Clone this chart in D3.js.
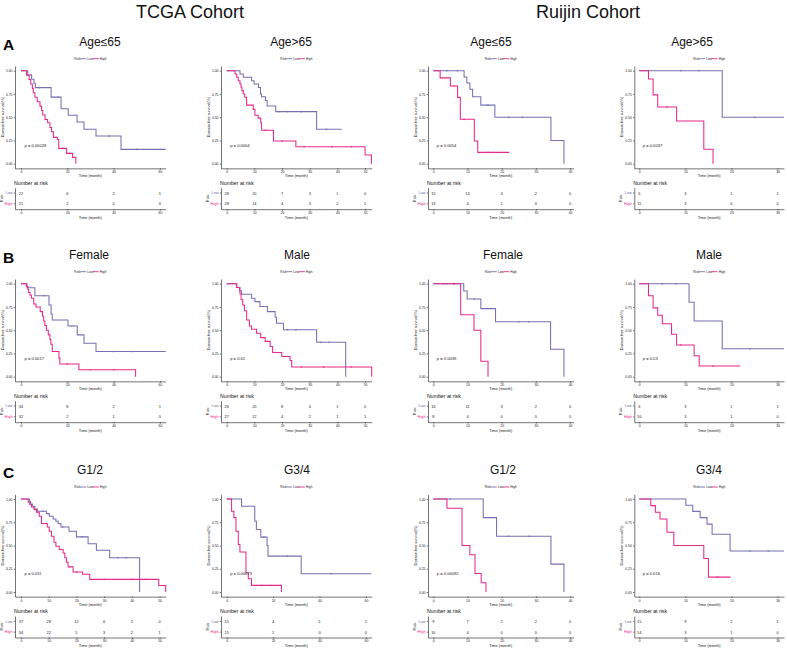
<!DOCTYPE html>
<html><head><meta charset="utf-8">
<script src="https://cdn.jsdelivr.net/npm/d3@7"></script>
<style>body{margin:0;background:#fff}svg{display:block;font-family:"Liberation Sans",Arial,sans-serif}</style>
</head><body><svg id="c" width="787" height="650"></svg>
<script>
// ---------- DATA ----------
const cohorts = ["TCGA Cohort", "Ruijin Cohort"];
const rowLetters = ["A", "B", "C"];
const titlesA = ["Age≤65", "Age>65", "Age≤65", "Age>65"];
const titlesB = ["Female", "Male", "Female", "Male"];
const titlesC = ["G1/2", "G3/4", "G1/2", "G3/4"];
const pvalsA = ["p = 0.00028", "p = 0.0004", "p = 0.0054", "p = 0.0037"];
const pvalsB = ["p = 0.0017", "p = 0.01", "p = 0.0039", "p = 0.03"];
const pvalsC = ["p = 0.011", "p = 0.00073", "p = 0.00092", "p = 0.016"];
const yTicks = [0, 0.25, 0.5, 0.75, 1];
const ticks0to60 = [0, 20, 40, 60];
const ticks0to50 = [0, 10, 20, 30, 40, 50];
const ticks0to40 = [0, 10, 20, 30, 40];
const ticks0to30 = [0, 10, 20, 30];
const groups = ["Low", "High"];

// step curves: [time, survival after drop]
const a1Low = [[2.9,0.955],[4.6,0.909],[5.6,0.864],[6.2,0.818],[13,0.716],[17.3,0.59],[20.4,0.52],[24.2,0.448],[27.2,0.37],[32.4,0.297],[43.2,0.154],[62.5,0.154]];
const a1High = [[2.4,0.952],[3.5,0.905],[4.2,0.857],[4.9,0.81],[5.3,0.762],[6.0,0.714],[7.0,0.667],[8.2,0.619],[8.9,0.571],[9.4,0.524],[10.4,0.476],[11.5,0.44],[12.5,0.39],[13.2,0.344],[14.0,0.283],[15.7,0.26],[16.3,0.165],[19.7,0.111],[22.3,0.068],[23.7,0]];
const a2Low = [[4.8,0.964],[6.0,0.929],[9.0,0.893],[9.9,0.857],[11.5,0.82],[12.2,0.75],[12.6,0.72],[14.0,0.68],[14.6,0.62],[17.7,0.56],[32.5,0.37],[41.6,0.37]];
const a2High = [[3.0,0.964],[3.6,0.929],[4.2,0.893],[4.8,0.857],[5.2,0.821],[5.5,0.786],[6.0,0.75],[6.5,0.714],[7.2,0.63],[9.6,0.584],[10.2,0.52],[11.4,0.49],[12.3,0.44],[12.6,0.36],[16.9,0.245],[25.0,0.183],[50.0,0.093],[52.3,0]];
const a3Low = [[9.0,0.933],[9.8,0.867],[10.7,0.8],[11.5,0.72],[13.9,0.63],[18.0,0.5],[34.4,0.25],[38.2,0]];
const a3High = [[2.0,0.923],[5.0,0.835],[7.1,0.713],[7.9,0.477],[12.0,0.244],[13.0,0.122],[22.2,0.122]];
const a4Low = [[18.0,0.5],[31.4,0.5]];
const a4High = [[2.0,0.91],[3.0,0.74],[4.0,0.61],[8.1,0.46],[14.0,0.155],[16.0,0]];
const b1Low = [[2.6,0.957],[6.0,0.871],[12.1,0.771],[13.0,0.675],[13.5,0.61],[20.3,0.546],[24.3,0.45],[27.2,0.36],[32.4,0.27],[62.5,0.27]];
const b1High = [[2.3,0.969],[3.0,0.938],[3.3,0.906],[3.9,0.875],[4.5,0.844],[5.5,0.781],[6.5,0.75],[8.3,0.7],[9.3,0.65],[9.8,0.6],[10.3,0.55],[11.0,0.5],[11.8,0.45],[12.5,0.4],[12.9,0.35],[13.5,0.27],[16.4,0.2],[16.8,0.136],[25.0,0.075],[49.5,0]];
const b2Low = [[3.6,0.96],[4.6,0.925],[5.4,0.886],[9.0,0.843],[10.2,0.807],[12.0,0.754],[14.7,0.70],[17.5,0.64],[18.0,0.575],[20.5,0.504],[32.5,0.37],[43.0,0]];
const b2High = [[3.6,0.96],[4.8,0.89],[5.2,0.83],[5.8,0.77],[6.4,0.71],[7.2,0.61],[8.2,0.546],[9.0,0.51],[10.8,0.468],[12.3,0.42],[13.9,0.38],[15.7,0.325],[16.6,0.26],[19.9,0.218],[22.9,0.175],[23.5,0.104],[52.4,0]];
const b3Low = [[8.9,0.921],[9.9,0.836],[13.9,0.732],[18.2,0.59],[34.3,0.296],[38.2,0]];
const b3High = [[8.0,0.667],[11.9,0.5],[13.9,0.167],[16.0,0]];
const b4Low = [[10.8,0.8],[11.9,0.6],[18.0,0.3],[31.4,0.3]];
const b4High = [[2.0,0.87],[3.0,0.74],[4.0,0.66],[5.0,0.57],[7.0,0.457],[8.1,0.34],[11.9,0.225],[13.0,0.114],[21.9,0.114]];
const c1Low = [[3.0,0.973],[3.5,0.946],[4.1,0.921],[5.0,0.893],[5.9,0.868],[9.2,0.843],[10.2,0.814],[11.6,0.786],[12.6,0.76],[13.4,0.736],[14.4,0.7],[17.3,0.654],[20.0,0.593],[24.2,0.518],[27.2,0.45],[32.0,0.368],[42.8,0]];
const c1High = [[2.6,0.964],[3.2,0.94],[3.8,0.914],[4.7,0.886],[5.6,0.857],[6.6,0.814],[7.4,0.736],[9.5,0.7],[10.2,0.654],[11.0,0.6],[11.9,0.536],[12.6,0.493],[13.8,0.457],[15.2,0.42],[15.8,0.368],[16.4,0.32],[17.0,0.27],[18.8,0.214],[22.2,0.19],[24.8,0.136],[49.7,0.07],[52.2,0]];
const c2Low = [[6.4,0.921],[12.1,0.76],[12.8,0.671],[14.7,0.59],[17.4,0.5],[17.8,0.386],[32.1,0.196],[62.3,0.196]];
const c2High = [[2.1,0.868],[3.1,0.8],[4.0,0.654],[5.0,0.511],[5.7,0.43],[8.3,0.207],[9.3,0.143],[10.7,0.071],[23.6,0]];
const c3Low = [[14.6,0.8],[18.5,0.6],[34.4,0.3],[38.2,0]];
const c3High = [[4.0,0.9],[8.4,0.5],[10.7,0.4],[12.2,0.2],[14.0,0.1],[15.4,0]];
const c4Low = [[10.1,0.933],[11.6,0.867],[13.2,0.8],[14.7,0.73],[15.8,0.62],[19.7,0.44],[31.4,0.44]];
const c4High = [[2.5,0.929],[3.5,0.857],[4.5,0.786],[6.0,0.643],[7.5,0.5],[14.0,0.36],[15.0,0.16],[19.8,0.16]];

// censoring times
const a1LowC = [8, 16, 38, 50], a1HighC = [18, 21];
const a2LowC = [19, 22, 27, 36], a2HighC = [14, 20, 28, 38, 45];
const a3LowC = [4, 7, 16, 22, 26], a3HighC = [6, 9, 16];
const a4LowC = [9, 13, 25], a4HighC = [6];
const b1LowC = [10, 22, 40, 48], b1HighC = [20, 30, 40];
const b2LowC = [22, 25, 34, 37], b2HighC = [27, 35, 45];
const b3LowC = [4, 6, 12, 25, 28], b3HighC = [3, 6];
const b4LowC = [5, 8, 24], b4HighC = [9, 16];
const c1LowC = [8, 15, 22, 35, 38], c1HighC = [20, 30, 40, 45];
const c2LowC = [16, 26, 45], c2HighC = [15, 19];
const c3LowC = [5, 22, 28], c3HighC = [];
const c4LowC = [24, 28], c4HighC = [17];

// numbers at risk
const a1Risk = [[22, 6, 2, 1], [21, 2, 0, 0]];
const a2Risk = [[28, 20, 7, 3, 1, 0], [28, 14, 4, 3, 2, 1]];
const a3Risk = [[15, 13, 3, 2, 0], [13, 4, 1, 0, 0]];
const a4Risk = [[6, 3, 1, 1], [11, 3, 0, 0]];
const b1Risk = [[34, 8, 2, 1], [32, 2, 1, 0]];
const b2Risk = [[26, 20, 8, 4, 1, 0], [27, 12, 4, 2, 1, 1]];
const b3Risk = [[16, 11, 3, 2, 0], [8, 4, 0, 0, 0]];
const b4Risk = [[6, 3, 1, 1], [16, 3, 1, 0]];
const c1Risk = [[37, 28, 12, 6, 2, 0], [34, 22, 5, 3, 2, 1]];
const c2Risk = [[15, 4, 1, 1], [15, 1, 0, 0]];
const c3Risk = [[9, 7, 2, 2, 0], [10, 4, 0, 0, 0]];
const c4Risk = [[15, 9, 2, 1], [14, 3, 1, 0]];

// ---------- LAYOUT ----------
const colors = {Low: "#7570B3", High: "#E7298A"};
const rowTop = [70.7, 283.7, 499];
const colAxisX = [15, 221, 428, 634.3];
const colAxisEnd = [165.7, 371.7, 573.5, 784];
const titleX = [[100, 291, 491, 692], [89, 297, 503, 709], [90, 297, 503, 709]];
const domA = [[-2.59, 62.5], [-2.06, 52.4], [-1.55, 41.0], [-1.08, 31.4]];
const domC = [[-2.16, 52.2], [-2.46, 62.5], [-1.55, 41.0], [-1.08, 31.4]];

const panels = [
  [0,0,titlesA[0],pvalsA[0],a1Low,a1High,a1LowC,a1HighC,a1Risk,domA[0],ticks0to60],
  [0,1,titlesA[1],pvalsA[1],a2Low,a2High,a2LowC,a2HighC,a2Risk,domA[1],ticks0to50],
  [0,2,titlesA[2],pvalsA[2],a3Low,a3High,a3LowC,a3HighC,a3Risk,domA[2],ticks0to40],
  [0,3,titlesA[3],pvalsA[3],a4Low,a4High,a4LowC,a4HighC,a4Risk,domA[3],ticks0to30],
  [1,0,titlesB[0],pvalsB[0],b1Low,b1High,b1LowC,b1HighC,b1Risk,domA[0],ticks0to60],
  [1,1,titlesB[1],pvalsB[1],b2Low,b2High,b2LowC,b2HighC,b2Risk,domA[1],ticks0to50],
  [1,2,titlesB[2],pvalsB[2],b3Low,b3High,b3LowC,b3HighC,b3Risk,domA[2],ticks0to40],
  [1,3,titlesB[3],pvalsB[3],b4Low,b4High,b4LowC,b4HighC,b4Risk,domA[3],ticks0to30],
  [2,0,titlesC[0],pvalsC[0],c1Low,c1High,c1LowC,c1HighC,c1Risk,domC[0],ticks0to50],
  [2,1,titlesC[1],pvalsC[1],c2Low,c2High,c2LowC,c2HighC,c2Risk,domC[1],ticks0to60],
  [2,2,titlesC[2],pvalsC[2],c3Low,c3High,c3LowC,c3HighC,c3Risk,domC[2],ticks0to40],
  [2,3,titlesC[3],pvalsC[3],c4Low,c4High,c4LowC,c4HighC,c4Risk,domC[3],ticks0to30]
];

const svg = d3.select("#c");
const FONT = "Liberation Sans, Arial, sans-serif";

// headers
svg.append("text").attr("x", 190).attr("y", 18).attr("text-anchor", "middle")
  .attr("font-size", 18).attr("fill", "#111").text(cohorts[0]);
svg.append("text").attr("x", 588).attr("y", 18).attr("text-anchor", "middle")
  .attr("font-size", 18).attr("fill", "#111").text(cohorts[1]);
rowLetters.forEach((L, i) => {
  svg.append("text").attr("x", 3).attr("y", rowTop[i] - 21).attr("font-size", 15.5)
    .attr("font-weight", "bold").attr("fill", "#000").text(L);
});

function styleAxis(g, fs) {
  g.attr("font-size", fs).attr("font-family", FONT);
  g.selectAll("path,line").attr("stroke", "#000").attr("stroke-width", 0.55);
  g.selectAll("text").attr("fill", "#222");
}

function survAt(pts, t) {
  let s = 1;
  pts.forEach(([ti, si]) => { if (ti <= t) s = si; });
  return s;
}

panels.forEach(([r, c, title, pval, low, high, lowC, highC, risk, dom, ticks]) => {
  const T = rowTop[r], ax = colAxisX[c], ae = colAxisEnd[c];
  const cx = (ax + ae) / 2;
  const x = d3.scaleLinear().domain(dom).range([ax, ae]);
  const y = d3.scaleLinear().domain([-0.05, 1.05]).range([T + 97.65, T - 4.65]);
  const g = svg.append("g");

  // title
  g.append("text").attr("x", titleX[r][c]).attr("y", T - 25).attr("text-anchor", "middle")
    .attr("font-size", 12).attr("fill", "#111").text(title);

  // legend
  const ly = T - 12;
  const lg = g.append("g").attr("font-size", 3.2).attr("fill", "#222");
  lg.append("text").attr("x", cx - 16).attr("y", ly).attr("dominant-baseline", "central").text("Risk");
  lg.append("line").attr("x1", cx - 10).attr("x2", cx - 4).attr("y1", ly).attr("y2", ly)
    .attr("stroke", colors.Low).attr("stroke-width", 0.9);
  lg.append("text").attr("x", cx - 3).attr("y", ly).attr("dominant-baseline", "central").text("Low");
  lg.append("line").attr("x1", cx + 2.5).attr("x2", cx + 8.5).attr("y1", ly).attr("y2", ly)
    .attr("stroke", colors.High).attr("stroke-width", 0.9);
  lg.append("text").attr("x", cx + 9.5).attr("y", ly).attr("dominant-baseline", "central").text("High");

  // axes
  const ya = g.append("g").attr("transform", `translate(${ax},0)`)
    .call(d3.axisLeft(y).tickValues(yTicks).tickFormat(d3.format(".2f")).tickSize(1.3).tickSizeOuter(0).tickPadding(1.2));
  styleAxis(ya, 3.4);
  const xa = g.append("g").attr("transform", `translate(0,${T + 97.65})`)
    .call(d3.axisBottom(x).tickValues(ticks).tickFormat(d3.format("d")).tickSize(1.3).tickSizeOuter(0).tickPadding(1.2));
  styleAxis(xa, 3.4);
  g.append("text").attr("transform", `translate(${ax - 11.5},${T + 46.5}) rotate(-90)`)
    .attr("text-anchor", "middle").attr("font-size", 3.7).attr("fill", "#222").text("Disease-free survival(%)");
  g.append("text").attr("x", cx).attr("y", T + 106.5).attr("text-anchor", "middle")
    .attr("font-size", 3.9).attr("fill", "#222").text("Time (month)");

  // curves
  const line = d3.line().x(d => x(d[0])).y(d => y(d[1])).curve(d3.curveStepAfter);
  [["Low", low, lowC], ["High", high, highC]].forEach(([grp, pts, cens]) => {
    g.append("path").datum([[0, 1], ...pts]).attr("d", line).attr("fill", "none")
      .attr("stroke", colors[grp]).attr("stroke-width", 1.05);
    cens.forEach(t => {
      const px = x(t), py = y(survAt(pts, t));
      g.append("path").attr("d", `M${px - 1},${py}H${px + 1}M${px},${py - 1}V${py + 1}`)
        .attr("stroke", colors[grp]).attr("stroke-width", 0.5);
    });
  });

  // p value
  g.append("text").attr("x", x(0) + 3.5).attr("y", y(0.2)).attr("dominant-baseline", "central")
    .attr("font-size", 4.1).attr("fill", "#222").text(pval);

  // risk table
  g.append("text").attr("x", ax - 1).attr("y", T + 114).attr("font-size", 5.2).attr("fill", "#111")
    .text("Number at risk");
  const band = d3.scaleBand().domain(groups).range([T + 117, T + 138.5]);
  const ta = g.append("g").attr("transform", `translate(${ax},0)`)
    .call(d3.axisLeft(band).tickSize(1.2).tickSizeOuter(0).tickPadding(1.2));
  styleAxis(ta, 3.9);
  ta.selectAll(".tick text").attr("fill", d => colors[d]);
  const tx = g.append("g").attr("transform", `translate(0,${T + 138.5})`)
    .call(d3.axisBottom(x).tickValues(ticks).tickFormat(d3.format("d")).tickSize(1.3).tickSizeOuter(0).tickPadding(1.2));
  styleAxis(tx, 3.4);
  g.append("text").attr("transform", `translate(${ax - 12},${T + 127.7}) rotate(-90)`)
    .attr("text-anchor", "middle").attr("font-size", 3.9).attr("fill", "#222").text("Risk");
  g.append("text").attr("x", cx).attr("y", T + 148).attr("text-anchor", "middle")
    .attr("font-size", 3.9).attr("fill", "#222").text("Time (month)");
  groups.forEach((grp, gi) => {
    risk[gi].forEach((n, k) => {
      g.append("text").attr("x", x(ticks[k])).attr("y", band(grp) + band.bandwidth() / 2)
        .attr("dominant-baseline", "central").attr("text-anchor", "middle")
        .attr("font-size", 3.9).attr("fill", "#222").text(n);
    });
  });
});
</script></body></html>
